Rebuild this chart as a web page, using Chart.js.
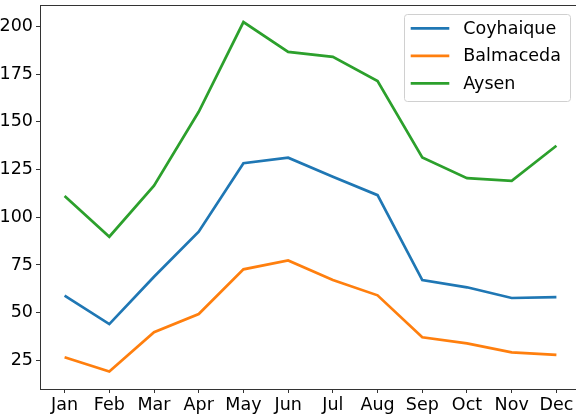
<!DOCTYPE html>
<html>
<head>
<meta charset="utf-8">
<script src="https://cdn.jsdelivr.net/npm/chart.js@4"></script>
<style>
html,body{margin:0;padding:0;background:#fff;overflow:hidden;}
#wrap{width:576px;height:417px;overflow:hidden;position:relative;}
canvas{position:absolute;left:0;top:0;}
</style>
</head>
<body>
<div id="wrap"><canvas id="c" width="581" height="417"></canvas></div>
<script>
const months = ["Jan","Feb","Mar","Apr","May","Jun","Jul","Aug","Sep","Oct","Nov","Dec"];
const seriesNames = ["Coyhaique","Balmaceda","Aysen"];
const coyhaique = [58.9, 44.0, 68.8, 92.4, 128.3, 131.2, 121.2, 111.6, 67.1, 63.3, 57.7, 58.2];
const balmaceda = [26.6, 19.2, 39.8, 49.3, 72.7, 77.4, 67.1, 59.1, 37.1, 33.9, 29.2, 27.9];
const aysen = [111.1, 89.8, 116.6, 155.3, 202.3, 186.7, 184.1, 171.4, 131.4, 120.5, 119.1, 137.5];
const yTicks = [25, 50, 75, 100, 125, 150, 175, 200];
const colors = ["#1f77b4", "#ff7f0e", "#2ca02c"];

const FONT = "DejaVu Sans";
const FSIZE = 17.5;
const allSeries = [coyhaique, balmaceda, aysen];

const frame = {
  id: 'frame',
  afterDraw(chart) {
    const {ctx, chartArea: a} = chart;
    ctx.save();
    ctx.strokeStyle = '#333';
    ctx.lineWidth = 1;
    ctx.strokeRect(Math.round(a.left) + 0.5, Math.round(a.top) + 0.5, Math.round(a.right - a.left), Math.round(a.bottom - a.top));
    // legend
    const bx = 404.5, by = 14.5, bw = 166, bh = 87;
    ctx.beginPath();
    ctx.roundRect(bx, by, bw, bh, 3);
    ctx.fillStyle = 'rgba(255,255,255,0.8)';
    ctx.fill();
    ctx.strokeStyle = '#d0d0d0';
    ctx.stroke();
    ctx.font = FSIZE + 'px "' + FONT + '"';
    ctx.textBaseline = 'middle';
    ctx.textAlign = 'left';
    chart.data.datasets.forEach((ds, i) => {
      const y = 28.3 + i * 27.5;
      ctx.beginPath();
      ctx.moveTo(410.7, y);
      ctx.lineTo(449.3, y);
      ctx.strokeStyle = ds.borderColor;
      ctx.lineWidth = 2.7;
      ctx.stroke();
      ctx.fillStyle = '#000';
      ctx.fillText(ds.label, 463.3, y + 1);
    });
    ctx.restore();
  }
};

new Chart(document.getElementById('c'), {
  type: 'line',
  data: {
    datasets: seriesNames.map((name, i) => ({
      label: name,
      data: allSeries[i].map((v, j) => ({x: j, y: v})),
      borderColor: colors[i],
      backgroundColor: colors[i],
      borderWidth: 2.7,
      pointRadius: 0,
      tension: 0,
      fill: false
    }))
  },
  options: {
    responsive: false,
    animation: false,
    layout: {padding: {top: 4.7, left: 0, right: 0, bottom: 0}},
    plugins: {legend: {display: false}, tooltip: {enabled: false}},
    scales: {
      x: {
        type: 'linear',
        min: -0.55,
        max: 11.55,
        afterBuildTicks(scale) { scale.ticks = months.map((m, i) => ({value: i})); },
        afterFit(scale) { scale.height = 28; scale.paddingLeft = 0; scale.paddingRight = 0; },
        ticks: {
          callback: (v) => months[v],
          font: {family: FONT, size: FSIZE},
          color: '#000',
          padding: 2,
          maxRotation: 0,
          autoSkip: false
        },
        grid: {drawOnChartArea: false, drawTicks: true, tickLength: 4, color: '#333'},
        border: {display: false}
      },
      y: {
        type: 'linear',
        min: 10.0,
        max: 211.4,
        afterBuildTicks(scale) { scale.ticks = yTicks.map(v => ({value: v})); },
        afterFit(scale) { scale.width = 40; scale.paddingTop = 0; scale.paddingBottom = 0; },
        ticks: {
          font: {family: FONT, size: FSIZE},
          color: '#000',
          padding: 3
        },
        grid: {drawOnChartArea: false, drawTicks: true, tickLength: 4, color: '#333'},
        border: {display: false}
      }
    }
  },
  plugins: [frame]
});
</script>
</body>
</html>
